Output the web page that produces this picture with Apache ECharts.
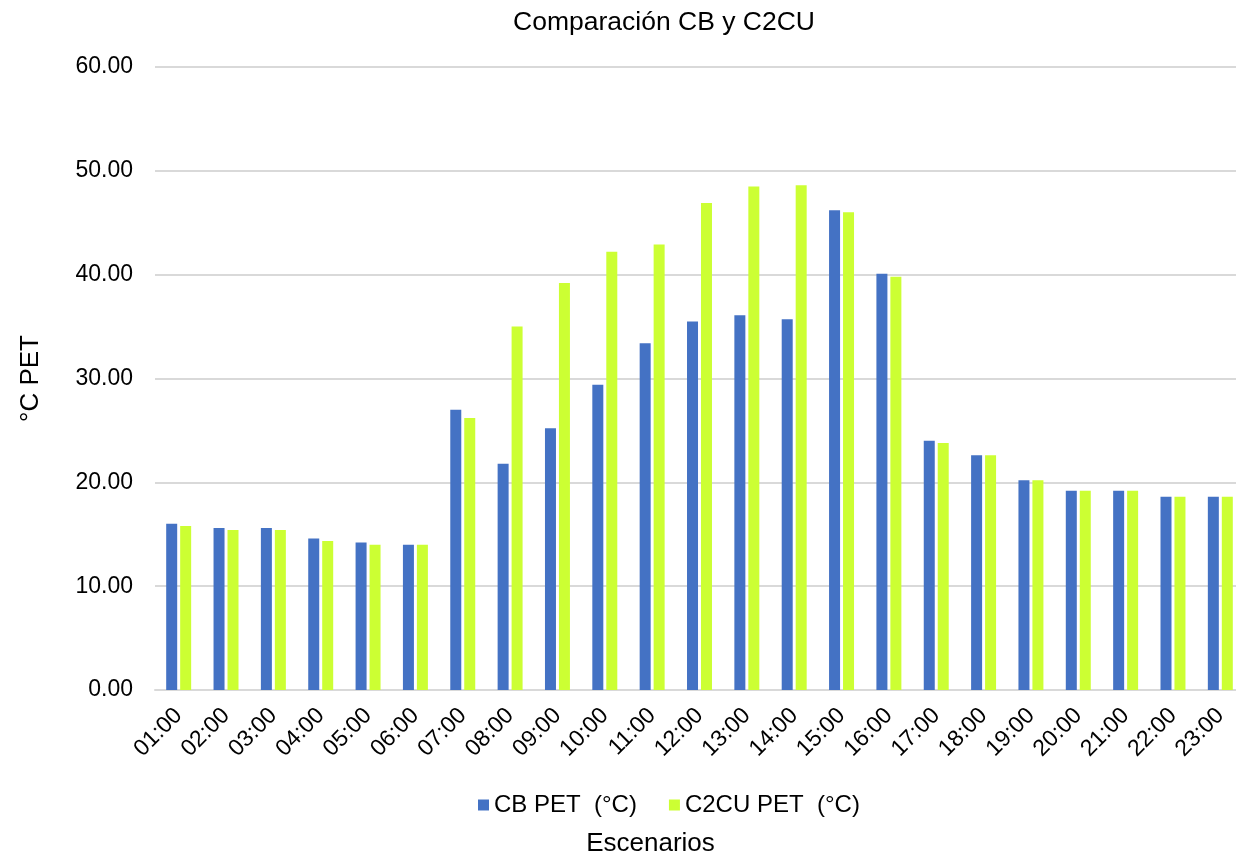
<!DOCTYPE html>
<html><head><meta charset="utf-8">
<script src="https://cdn.jsdelivr.net/npm/echarts@6/dist/echarts.min.js"></script>
<style>html,body{margin:0;padding:0;background:#fff}#c{width:1236px;height:855px}</style>
</head><body><div id="c"></div>
<script>
const categories = ['01:00','02:00','03:00','04:00','05:00','06:00','07:00','08:00','09:00','10:00','11:00','12:00','13:00','14:00','15:00','16:00','17:00','18:00','19:00','20:00','21:00','22:00','23:00'];
const cbPET = [16.0,15.6,15.6,14.6,14.2,14.0,27.0,21.8,25.2,29.4,33.4,35.5,36.1,35.7,46.2,40.1,24.0,22.6,20.2,19.2,19.2,18.6,18.6];
const c2cuPET = [15.8,15.4,15.4,14.35,14.0,14.0,26.2,35.0,39.2,42.2,42.9,46.9,48.5,48.6,46.0,39.8,23.8,22.6,20.2,19.2,19.2,18.6,18.6];
const yTicks = {min:0, max:60, interval:10};
const FONT = 'Liberation Sans, Arial, sans-serif';
const chart = echarts.init(document.getElementById('c'), null, {renderer:'canvas'});
chart.setOption({
  animation:false,
  backgroundColor:'#fff',
  title:{text:'Comparación CB y C2CU', left:659, top:4, textAlign:'center',
    textStyle:{fontFamily:FONT, fontSize:26.5, fontWeight:'normal', color:'#000'}},
  grid:{left:155, top:67, width:1089, height:623, containLabel:false, outerBoundsMode:'none'},
  legend:{top:788, left:473, itemWidth:11, itemHeight:11, itemGap:32,
    textStyle:{fontFamily:FONT, fontSize:24, color:'#000'},
    data:['CB PET  (°C)','C2CU PET  (°C)'], icon:'rect'},
  xAxis:{type:'category', data:categories,
    name:'Escenarios', nameLocation:'middle', nameGap:141,
    nameTextStyle:{fontFamily:FONT, fontSize:26, color:'#000', padding:[0,0,0,-98]},
    axisLine:{lineStyle:{color:'#d9d9d9', width:2}},
    axisTick:{show:false},
    axisLabel:{rotate:45, interval:0, fontFamily:FONT, fontSize:23, color:'#000', margin:22}},
  yAxis:{type:'value', min:yTicks.min, max:yTicks.max, interval:yTicks.interval,
    name:'°C PET', nameLocation:'middle', nameGap:111, nameRotate:90,
    nameTextStyle:{fontFamily:FONT, fontSize:26, color:'#000'},
    axisLine:{show:false}, axisTick:{show:false},
    splitLine:{lineStyle:{color:'#d9d9d9', width:2}},
    axisLabel:{formatter:v=>v.toFixed(2), fontFamily:FONT, fontSize:23, color:'#000', margin:22}},
  series:[
    {name:'CB PET  (°C)', type:'bar', data:cbPET, barWidth:11, barGap:'27%',
      itemStyle:{color:'#4472c4'}},
    {name:'C2CU PET  (°C)', type:'bar', data:c2cuPET, barWidth:11,
      itemStyle:{color:'#ccff33'}}
  ]
});
</script></body></html>
